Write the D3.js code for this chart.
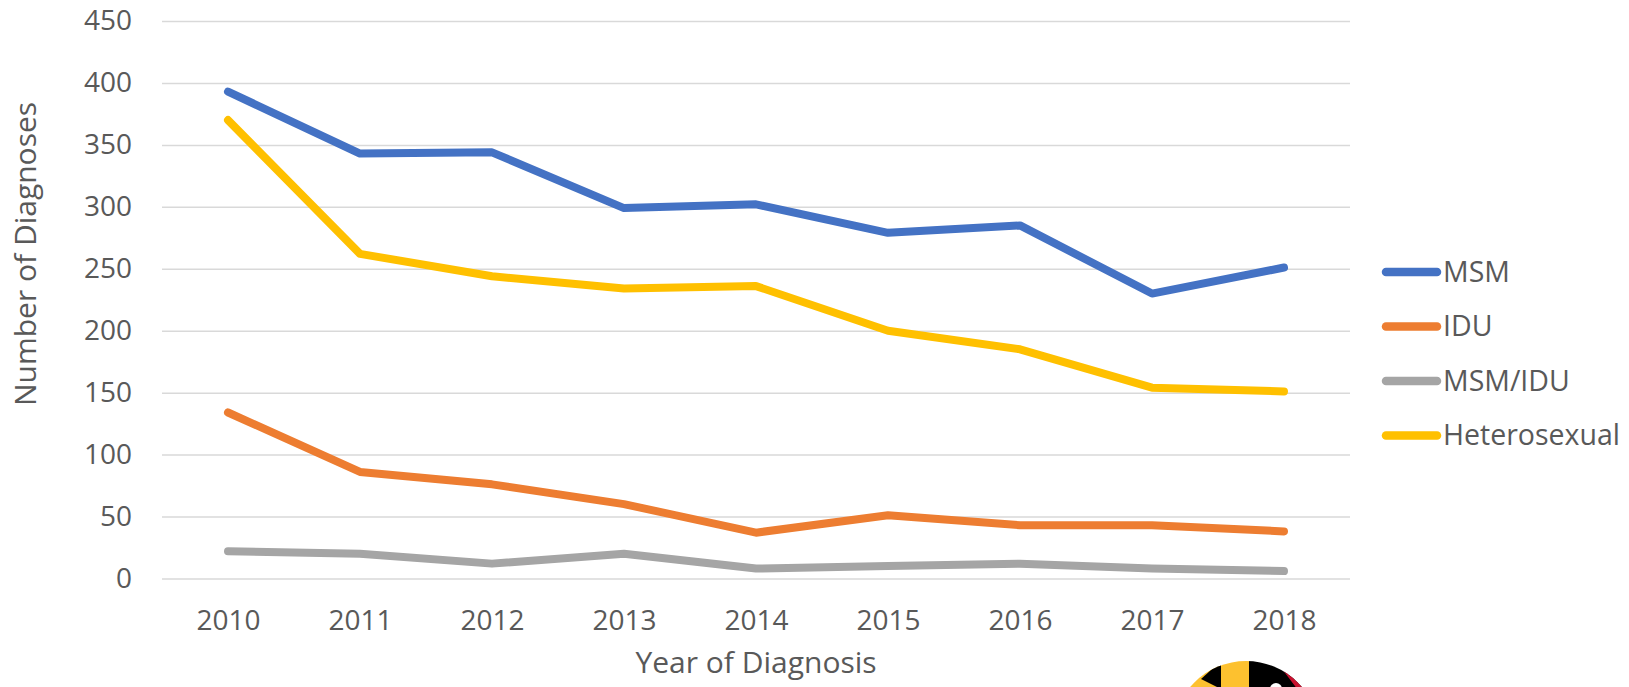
<!DOCTYPE html>
<html>
<head>
<meta charset="utf-8">
<script src="https://cdn.jsdelivr.net/npm/d3@7"></script>
<style>
  html, body { margin: 0; padding: 0; background: #fff; }
  svg { display: block; font-family: "Open Sans", sans-serif; }
</style>
</head>
<body>
<svg id="chart" width="1629" height="687"></svg>
<script>
// ---- data ----
const years = ["2010","2011","2012","2013","2014","2015","2016","2017","2018"];
const seriesNames = ["MSM","IDU","MSM/IDU","Heterosexual"];
const msm = [393, 343, 344, 299, 302, 279, 285, 230, 251];
const idu = [134, 86, 76, 60, 37, 51, 43, 43, 38];
const msmIdu = [22, 20, 12, 20, 8, 10, 12, 8, 6];
const hetero = [370, 262, 244, 234, 236, 200, 185, 154, 151];
const yTicks = [0, 50, 100, 150, 200, 250, 300, 350, 400, 450];
const colors = ["#4472C4", "#ED7D31", "#A5A5A5", "#FFC000"];
const xTitle = "Year of Diagnosis";
const yTitle = "Number of Diagnoses";

const seriesValues = [msm, idu, msmIdu, hetero];

// ---- layout ----
const svg = d3.select("#chart");
const plot = { left: 162, right: 1350, top: 21, bottom: 578.5 };
const textColor = "#595959";
const tickFont = 28;
const titleFont = 30;
const legendFont = 28.5;

const x = d3.scalePoint().domain(years).range([plot.left, plot.right]).padding(0.5);
const y = d3.scaleLinear().domain([0, 450]).range([plot.bottom, plot.top]);

// gridlines
const grid = svg.append("g")
  .attr("transform", `translate(${plot.left},0)`)
  .call(d3.axisLeft(y).tickValues(yTicks).tickSize(-(plot.right - plot.left)).tickFormat(""));
grid.select(".domain").remove();
grid.selectAll(".tick line").attr("stroke", "#D9D9D9").attr("stroke-width", 1.5);

// y tick labels
const yAxis = svg.append("g")
  .attr("transform", `translate(${plot.left - 30},0)`)
  .call(d3.axisLeft(y).tickValues(yTicks).tickSize(0).tickPadding(0));
yAxis.select(".domain").remove();
yAxis.selectAll(".tick text")
  .attr("fill", textColor)
  .style("font-family", "'Open Sans', sans-serif")
  .style("font-size", tickFont + "px");

// x tick labels
const xAxis = svg.append("g")
  .attr("transform", `translate(0,${plot.bottom})`)
  .call(d3.axisBottom(x).tickSize(0).tickPadding(0));
xAxis.select(".domain").remove();
xAxis.selectAll(".tick text")
  .attr("fill", textColor)
  .attr("y", 41.5)
  .attr("dy", "0.35em")
  .style("font-family", "'Open Sans', sans-serif")
  .style("font-size", tickFont + "px");

// lines
const line = d3.line()
  .x((d, i) => x(years[i]))
  .y(d => y(d));

seriesValues.forEach((vals, k) => {
  svg.append("path")
    .datum(vals)
    .attr("fill", "none")
    .attr("stroke", colors[k])
    .attr("stroke-width", 8)
    .attr("stroke-linecap", "round")
    .attr("stroke-linejoin", "round")
    .attr("d", line);
});

// axis titles
svg.append("text")
  .attr("x", (plot.left + plot.right) / 2)
  .attr("y", 673)
  .attr("text-anchor", "middle")
  .attr("fill", textColor)
  .style("font-size", titleFont + "px")
  .text(xTitle);

svg.append("text")
  .attr("transform", `translate(36,254) rotate(-90)`)
  .attr("text-anchor", "middle")
  .attr("fill", textColor)
  .style("font-size", titleFont + "px")
  .text(yTitle);

// legend
const legend = svg.append("g").attr("transform", "translate(1381,272)");
seriesNames.forEach((name, k) => {
  const g = legend.append("g").attr("transform", `translate(0,${k * 54.5})`);
  g.append("line")
    .attr("x1", 5).attr("x2", 56)
    .attr("y1", 0).attr("y2", 0)
    .attr("stroke", colors[k])
    .attr("stroke-width", 8.5)
    .attr("stroke-linecap", "round");
  g.append("text")
    .attr("x", 62)
    .attr("y", 0)
    .attr("dy", "0.35em")
    .attr("fill", textColor)
    .style("font-size", legendFont + "px")
    .text(name);
});

// decorative logo (partially visible circle at bottom)
const logo = svg.append("g");
const cx = 1246, cy = 734, r = 73;
const defs = svg.append("defs");
defs.append("clipPath").attr("id", "logoClip")
  .append("circle").attr("cx", cx).attr("cy", cy).attr("r", r);
const lg = logo.append("g").attr("clip-path", "url(#logoClip)");
lg.append("rect").attr("x", cx - r).attr("y", cy - r).attr("width", r).attr("height", r).attr("fill", "#FDC12F");
lg.append("rect").attr("x", cx + 3).attr("y", cy - r).attr("width", r).attr("height", r).attr("fill", "#000");
lg.append("path").attr("d", `M${cx+30},${cy-r} L${cx+r},${cy-r} L${cx+r},${cy} L${cx+55},${cy-40} Z`).attr("fill", "#C8102E");
lg.append("circle").attr("cx", cx + 30).attr("cy", cy - 45).attr("r", 6).attr("fill", "#fff");
lg.append("path").attr("d", `M${cx-45},${cy-55} L${cx-25},${cy-r} L${cx-25},${cy-45} Z`).attr("fill", "#000");
lg.append("path").attr("d", `M${cx-25},${cy-45} L${cx-10},${cy-30} L${cx-25},${cy-30} Z`).attr("fill", "#000");
lg.append("rect").attr("x", cx).attr("y", cy - r).attr("width", 3).attr("height", r).attr("fill", "#FDC12F");
</script>
</body>
</html>
